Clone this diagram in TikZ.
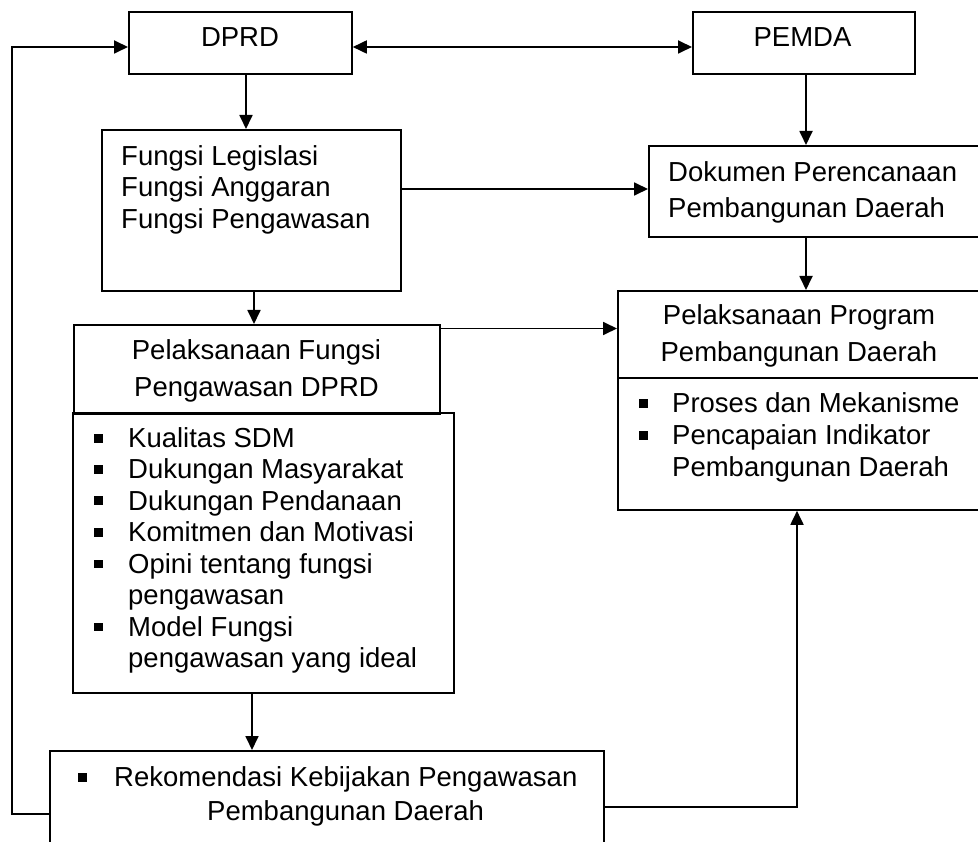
\documentclass[tikz,border=0pt]{standalone}
\usepackage{fontspec}
\setmainfont{Liberation Sans}
\usetikzlibrary{arrows.meta}
\newcommand{\Lft}[1]{\vtop{\halign{##\hfil\cr#1\crcr}}}
\newcommand{\Ctr}[1]{\vtop{\halign{\hfil##\hfil\cr#1\crcr}}}
\newcommand{\bitem}[2][34pt]{\makebox[#1][l]{\raisebox{5pt}{\rule{9pt}{9pt}}}#2}
\newcommand{\bcont}[2][34pt]{\hspace*{#1}#2}
\begin{document}
\begin{tikzpicture}[x=1pt,y=-1pt,
  box/.style={draw, line width=1.8pt, rectangle, inner sep=0pt, anchor=north west},
  txt/.style={inner sep=0pt, font=\fontsize{27.5}{31.5}\selectfont},
  arr/.style={line width=1.8pt, -{Triangle[length=14pt,width=13pt]}},
  darr/.style={line width=1.8pt, {Triangle[length=14pt,width=13pt]}-{Triangle[length=14pt,width=13pt]}},
  conn/.style={line width=1.8pt}]
\useasboundingbox (0,0) rectangle (978,842);
\clip (0,0) rectangle (978,842);
% boxes
\node[box, minimum width=223pt, minimum height=62pt] (dprd) at (128,11) {};
\node[box, minimum width=222pt, minimum height=62pt] (pemda) at (692,11) {};
\node[box, minimum width=299pt, minimum height=161pt] (fungsi) at (101,129) {};
\node[box, minimum width=342pt, minimum height=91pt] (dok) at (648,145) {};
\node[box, minimum width=366pt, minimum height=89pt] (pel) at (73,324) {};
\node[box, minimum width=381pt, minimum height=279.5pt] (faktor) at (72,412.5) {};
\node[box, minimum width=373pt, minimum height=219pt] (prog) at (617,290) {};
\node[box, minimum width=554pt, minimum height=110pt] (rekom) at (49,750) {};
% texts
\node[txt, anchor=base] (tdprd) at (240,47) {DPRD};
\node[txt, anchor=base] (tpemda) at (802.5,47) {PEMDA};
\node[txt, anchor=base west, font=\fontsize{27.5}{31.2}\selectfont] (tfungsi) at (121,165.7)
  {\Lft{Fungsi Legislasi\cr Fungsi Anggaran\cr Fungsi Pengawasan}};
\node[txt, anchor=base, font=\fontsize{27.5}{36.5}\selectfont] (tpel) at (256.5,360)
  {\Ctr{Pelaksanaan Fungsi\cr Pengawasan DPRD}};
\node[txt, anchor=base west, font=\fontsize{27.5}{31.5}\selectfont] (tfaktor) at (94,447.5)
  {\Lft{\bitem{Kualitas SDM}\cr
        \bitem{Dukungan Masyarakat}\cr
        \bitem{Dukungan Pendanaan}\cr
        \bitem{Komitmen dan Motivasi}\cr
        \bitem{Opini tentang fungsi}\cr
        \bcont{pengawasan}\cr
        \bitem{Model Fungsi}\cr
        \bcont{pengawasan yang ideal}}};
\node[txt, anchor=base west, font=\fontsize{27.5}{35.6}\selectfont] (tdok) at (668,181.7)
  {\Lft{Dokumen Perencanaan\cr Pembangunan Daerah}};
\node[txt, anchor=base, font=\fontsize{27.5}{36.7}\selectfont] (tprog) at (799,325)
  {\Ctr{Pelaksanaan Program\cr Pembangunan Daerah}};
\node[txt, anchor=base west, font=\fontsize{27.5}{32}\selectfont] (tproglist) at (639,412.7)
  {\Lft{\bitem[33pt]{Proses dan Mekanisme}\cr
        \bitem[33pt]{Pencapaian Indikator}\cr
        \bcont[33pt]{Pembangunan Daerah}}};
\node[txt, anchor=base west, font=\fontsize{27.5}{34}\selectfont] (trekom) at (78,786.5)
  {\Lft{\bitem[36pt]{Rekomendasi Kebijakan Pengawasan}\cr
        \bcont[129pt]{Pembangunan Daerah}}};
% helper coordinates
\coordinate (c246) at (246,0);
\coordinate (c254) at (254,0);
\coordinate (c252) at (252,0);
\coordinate (c806) at (806,0);
\coordinate (c797) at (797,0);
\coordinate (r47) at (0,47);
\coordinate (r189) at (0,189);
\coordinate (r328) at (0,328.5);
\coordinate (r378) at (0,378);
\coordinate (r807) at (0,807);
\coordinate (fb) at (12,814);
% divider in program box
\draw[conn] (prog.west |- r378) -- (prog.east |- r378);
% connectors
\draw[darr] (dprd.east |- r47) -- (pemda.west |- r47);
\draw[arr] (dprd.south -| c246) -- (fungsi.north -| c246);
\draw[arr] (pemda.south -| c806) -- (dok.north -| c806);
\draw[arr] (fungsi.east |- r189) -- (dok.west |- r189);
\draw[arr] (fungsi.south -| c254) -- (pel.north -| c254);
\draw[arr] (dok.south -| c806) -- (prog.north -| c806);
\draw[arr] (pel.east |- r328) -- (prog.west |- r328);
\draw[arr] (faktor.south -| c252) -- (rekom.north -| c252);
\draw[arr] (rekom.east |- r807) -| (prog.south -| c797);
\draw[arr] (rekom.west |- fb) -- (fb) |- (dprd.west |- r47);
\end{tikzpicture}
\end{document}
